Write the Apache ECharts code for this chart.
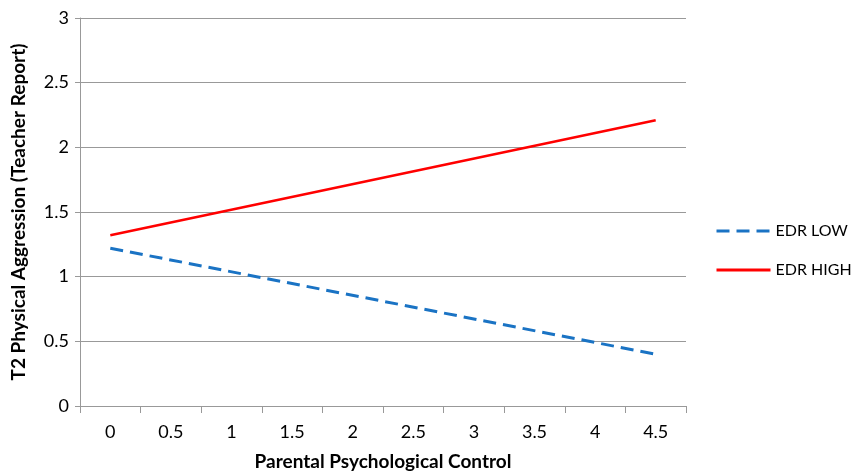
<!DOCTYPE html>
<html><head><meta charset="utf-8">
<script src="https://cdn.jsdelivr.net/npm/echarts@6/dist/echarts.min.js"></script>
<style>html,body{margin:0;padding:0;background:#fff}#c{width:856px;height:476px}</style>
</head><body><div id="c"></div>
<script>
const categories = ['0','0.5','1','1.5','2','2.5','3','3.5','4','4.5'];
const edrLow = [['0', 1.22], ['4.5', 0.40]];
const edrHigh = [['0', 1.32], ['4.5', 2.21]];
const yTicks = [0, 0.5, 1, 1.5, 2, 2.5, 3];

const chart = echarts.init(document.getElementById('c'));
const font = 'Lato, "Open Sans", sans-serif';
chart.setOption({
  animation: false,
  textStyle: {fontFamily: font},
  grid: {left: 80, right: 170, top: 18, bottom: 67},
  legend: {
    orient: 'vertical', left: 710, top: 218,
    itemWidth: 54, itemHeight: 14, itemGap: 23,
    itemStyle: {opacity: 0},
    lineStyle: {width: 3},
    textStyle: {fontSize: 16, color: '#000', fontFamily: font},
    data: ['EDR LOW', 'EDR HIGH']
  },
  xAxis: {
    type: 'category', data: categories, boundaryGap: true,
    name: 'Parental Psychological Control', nameLocation: 'middle', nameGap: 46,
    nameTextStyle: {fontSize: 19, fontWeight: 'bold', color: '#000'},
    axisLine: {lineStyle: {color: '#999', width: 1}},
    axisTick: {show: true, length: 7, lineStyle: {color: '#999'}},
    axisLabel: {fontSize: 18, color: '#000', margin: 17},
    splitLine: {show: false}
  },
  yAxis: {
    type: 'value', min: 0, max: 3, interval: 0.5,
    name: 'T2 Physical Aggression (Teacher Report)', nameLocation: 'middle', nameGap: 52,
    nameTextStyle: {fontSize: 19, fontWeight: 'bold', color: '#000'},
    axisLine: {show: true, lineStyle: {color: '#999', width: 1}},
    axisTick: {show: true, length: 5, lineStyle: {color: '#999'}},
    axisLabel: {fontSize: 18, color: '#000', margin: 11,
      formatter: v => yTicks.includes(v) ? String(v) : ''},
    splitLine: {show: true, lineStyle: {color: '#999', width: 1}}
  },
  series: [
    {name: 'EDR LOW', type: 'line', data: edrLow, symbol: 'none', connectNulls: true,
     lineStyle: {color: '#1a73c4', width: 3, type: [13, 7]}, itemStyle: {color: '#1a73c4'}},
    {name: 'EDR HIGH', type: 'line', data: edrHigh, symbol: 'none', connectNulls: true,
     lineStyle: {color: '#ff0000', width: 2.5}, itemStyle: {color: '#ff0000'}}
  ]
});
</script></body></html>
